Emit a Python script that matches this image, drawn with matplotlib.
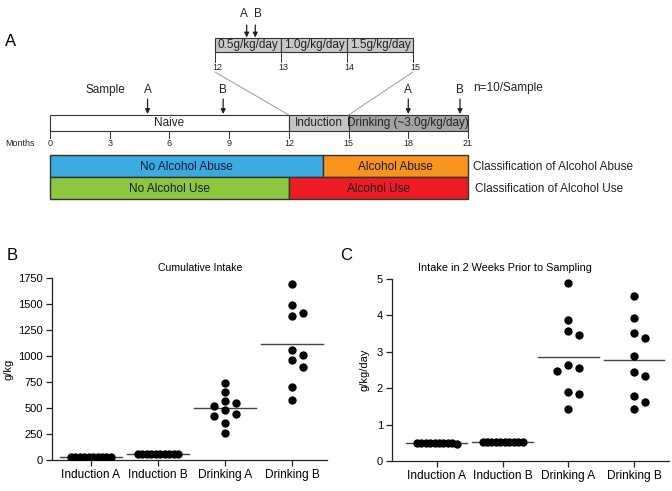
import numpy as np
import matplotlib
matplotlib.use("Agg")
import matplotlib.pyplot as plt
from matplotlib.patches import Rectangle, ConnectionPatch

plt.rcParams['font.family'] = ['Liberation Sans', 'DejaVu Sans']

# ---------------- data ----------------
month_ticks = [0, 3, 6, 9, 12, 15, 18, 21]
phase_names = ["Naive", "Induction", "Drinking (~3.0g/kg/day)"]
phase_bounds = [0, 12, 15, 21]
phase_colors = ["white", "#c4c4c4", "#a3a3a3"]
induction_names = ["0.5g/kg/day", "1.0g/kg/day", "1.5g/kg/day"]
induction_bounds = [12, 13, 14, 15]
sample_labels = ["A", "B", "A", "B"]
sample_months = [4.9, 8.7, 18, 20.6]
induction_sample_labels = ["A", "B"]
induction_sample_months = [12.48, 12.61]
abuse_labels = ["No Alcohol Abuse", "Alcohol Abuse"]
abuse_bounds = [0, 13.7, 21]
abuse_colors = ["#3aaae1", "#f7941d"]
use_labels = ["No Alcohol Use", "Alcohol Use"]
use_bounds = [0, 12, 21]
use_colors = ["#8dc63f", "#ed1c24"]

groups = ["Induction A", "Induction B", "Drinking A", "Drinking B"]
cum_induction_a = [25, 25, 25, 25, 25, 25, 25, 25, 25, 25]
cum_induction_b = [62, 62, 62, 62, 62, 62, 62, 62, 62, 62]
cum_drinking_a = [745, 650, 565, 545, 520, 480, 440, 420, 360, 255]
cum_drinking_b = [1689, 1490, 1416, 1381, 1055, 1012, 958, 891, 699, 574]
cum_ticks = [0, 250, 500, 750, 1000, 1250, 1500, 1750]

int_induction_a = [0.5, 0.5, 0.5, 0.5, 0.48, 0.5, 0.5, 0.5, 0.5, 0.5]
int_induction_b = [0.52, 0.52, 0.52, 0.52, 0.52, 0.52, 0.52, 0.52, 0.52, 0.52]
int_drinking_a = [4.89, 3.86, 3.58, 3.46, 2.63, 2.56, 2.46, 1.90, 1.85, 1.42]
int_drinking_b = [4.54, 3.93, 3.53, 3.37, 2.89, 2.44, 2.33, 1.79, 1.63, 1.42]
int_ticks = [0, 1, 2, 3, 4, 5]

# ---------------- figure ----------------
W, H = 672, 491
fig = plt.figure(figsize=(W / 100, H / 100), dpi=100)


def pax(l, t, r, b):
    return fig.add_axes([l / W, 1 - b / H, (r - l) / W, (b - t) / H])


TXT = 8.5
SMALL = 6.5
EDGE = "#333333"

# ---- Panel A: main timeline (x = months, y = pixels) ----
axA = pax(50, 0, 468, 230)
axA.set_xlim(0, 21)
axA.set_ylim(230, 0)
axA.axis("off")

for name, x0, x1, c in zip(phase_names, phase_bounds[:-1], phase_bounds[1:], phase_colors):
    axA.add_patch(Rectangle((x0, 115), x1 - x0, 16, facecolor=c, edgecolor=EDGE, lw=0.8, clip_on=False))
    axA.text((x0 + x1) / 2, 123, name, ha="center", va="center", fontsize=TXT, color="#222")

for m in month_ticks:
    axA.plot([m, m], [131, 138], color=EDGE, lw=0.7, clip_on=False)
    axA.text(m, 144, str(m), ha="center", va="center", fontsize=SMALL, color="#222")
axA.text(-1.5, 143.5, "Months", ha="center", va="center", fontsize=SMALL, color="#222")

for lab, m in zip(sample_labels, sample_months):
    axA.annotate("", xy=(m, 114), xytext=(m, 99),
                 arrowprops=dict(arrowstyle="-|>", color="#222", lw=0.9, mutation_scale=7,
                                 shrinkA=0, shrinkB=0))
    axA.text(m, 90, lab, ha="center", va="center", fontsize=TXT, color="#222")
axA.text(2.8, 90, "Sample", ha="center", va="center", fontsize=TXT, color="#222")
axA.text(21.25, 88, "n=10/Sample", ha="left", va="center", fontsize=TXT, color="#222")

for lab, x0, x1, c in zip(abuse_labels, abuse_bounds[:-1], abuse_bounds[1:], abuse_colors):
    axA.add_patch(Rectangle((x0, 155), x1 - x0, 22, facecolor=c, edgecolor=EDGE, lw=1, clip_on=False))
    axA.text((x0 + x1) / 2, 166.5, lab, ha="center", va="center", fontsize=TXT, color="#1a1a2e")
for lab, x0, x1, c in zip(use_labels, use_bounds[:-1], use_bounds[1:], use_colors):
    axA.add_patch(Rectangle((x0, 177), x1 - x0, 22, facecolor=c, edgecolor=EDGE, lw=1, clip_on=False))
    axA.text((x0 + x1) / 2, 188.5, lab, ha="center", va="center", fontsize=TXT, color="#1a1a2e")
axA.text(21.25, 166.5, "Classification of Alcohol Abuse", ha="left", va="center", fontsize=TXT, color="#222")
axA.text(21.35, 188.5, "Classification of Alcohol Use", ha="left", va="center", fontsize=TXT, color="#222")

# ---- Panel A: induction inset ----
axI = pax(215, 0, 413, 230)
axI.set_xlim(12, 15)
axI.set_ylim(230, 0)
axI.axis("off")
for name, x0, x1 in zip(induction_names, induction_bounds[:-1], induction_bounds[1:]):
    axI.add_patch(Rectangle((x0, 38), x1 - x0, 14, facecolor="#c8c8c8", edgecolor=EDGE, lw=0.8, clip_on=False))
    axI.text((x0 + x1) / 2, 45, name, ha="center", va="center", fontsize=TXT, color="#222")
for m in induction_bounds:
    axI.plot([m, m], [52, 62], color=EDGE, lw=0.7, clip_on=False)
    axI.text(m + 0.03, 67, str(m), ha="center", va="center", fontsize=SMALL, color="#222")
for k, (lab, m) in enumerate(zip(induction_sample_labels, induction_sample_months)):
    axI.annotate("", xy=(m, 37.5), xytext=(m, 25),
                 arrowprops=dict(arrowstyle="-|>", color="#222", lw=0.9, mutation_scale=7,
                                 shrinkA=0, shrinkB=0))
    axI.annotate(lab, xy=(m, 14), xytext=(-2 if k == 0 else 2, 0), textcoords="offset points",
                 ha="center", va="center", fontsize=TXT, color="#222")

for m in (induction_bounds[0], induction_bounds[-1]):
    con = ConnectionPatch(xyA=(m, 72), coordsA="data", axesA=axI,
                          xyB=(m, 115), coordsB="data", axesB=axA,
                          color="#9a9a9a", lw=0.7)
    fig.add_artist(con)

fig.text(11 / W, 1 - 41 / H, "A", ha="center", va="center", fontsize=12)
fig.text(12 / W, 1 - 256 / H, "B", ha="center", va="center", fontsize=12)
fig.text(346 / W, 1 - 256 / H, "C", ha="center", va="center", fontsize=12)


# ---- scatter panels ----
def swarm(vals, ypx, d=8.5, step=11.0, max_half=20.0):
    vals = np.asarray(vals, float)
    order = np.argsort(-vals, kind="stable")
    offs = np.zeros(len(vals))
    placed = []
    for i in order:
        y = vals[i] * ypx
        k = 0
        while True:
            cand = 0.0 if k == 0 else ((k + 1) // 2) * step * (1 if k % 2 else -1)
            if all(np.hypot(cand - ox, y - oy) >= d for ox, oy in placed):
                break
            k += 1
        offs[i] = cand
        placed.append((cand, y))
    span = offs.max() - offs.min()
    if span > 2 * max_half:
        offs = (offs - (offs.max() + offs.min()) / 2) * (2 * max_half / span)
    return offs


def dot_panel(ax, data, ticks, ylabel, ypx, xpx):
    for i, vals in enumerate(data):
        offs = swarm(vals, ypx)
        ax.scatter(i + offs / xpx, vals, s=36, color="black", zorder=3, linewidths=0)
        mu = np.mean(vals)
        ax.plot([i - 0.46, i + 0.46], [mu, mu], color="#444444", lw=1.0, zorder=2)
    ax.set_xticks(range(len(groups)))
    ax.set_xticklabels(groups, fontsize=8.6)
    ax.set_yticks(ticks)
    ax.set_yticklabels([str(t) for t in ticks], fontsize=8)
    for s in ("top", "right"):
        ax.spines[s].set_visible(False)
    for s in ("left", "bottom"):
        ax.spines[s].set_linewidth(0.9)
        ax.spines[s].set_color("#222")
    ax.tick_params(direction="out", length=4, width=0.9, color="#222", pad=2.5)
    ax.set_ylabel(ylabel, fontsize=8)


axB = pax(52, 278, 327, 460)
axB.set_xlim(-0.58, 3.52)
axB.set_ylim(0, 1750)
dot_panel(axB, [cum_induction_a, cum_induction_b, cum_drinking_a, cum_drinking_b],
          cum_ticks, "g/kg", 182 / 1750, 67.0)
axB.yaxis.set_label_coords(-39 / 275, 0.5)
fig.text(200 / W, 1 - 268 / H, "Cumulative Intake", ha="center", va="center", fontsize=7.6)

axC = pax(392, 279, 669, 461)
axC.set_xlim(-0.68, 3.53)
axC.set_ylim(0, 5)
dot_panel(axC, [int_induction_a, int_induction_b, int_drinking_a, int_drinking_b],
          int_ticks, "g/kg/day", 182 / 5, 65.8)
axC.yaxis.set_label_coords(-23 / 277, 0.5)
fig.text(505 / W, 1 - 268 / H, "Intake in 2 Weeks Prior to Sampling", ha="center", va="center", fontsize=7.8)

fig.savefig("out.png", dpi=100)
